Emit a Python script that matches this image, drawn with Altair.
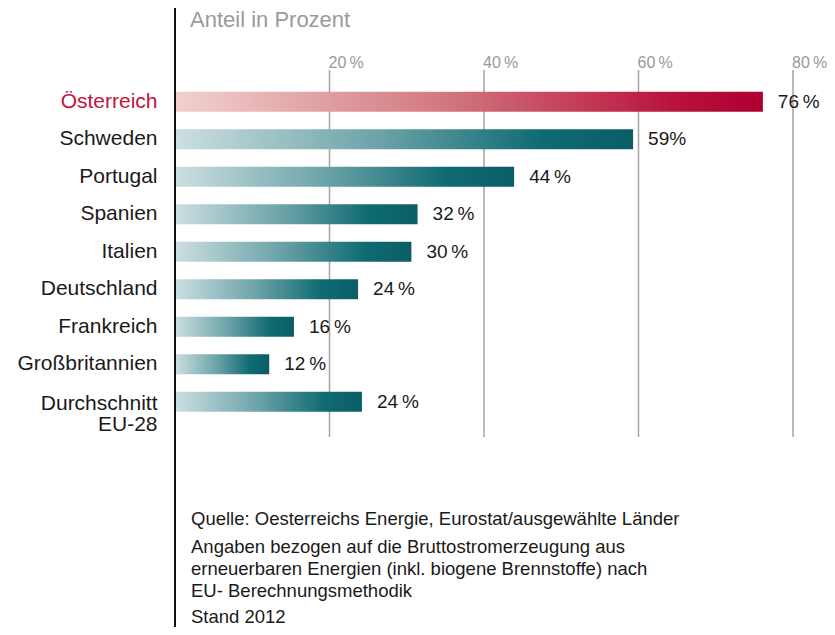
import altair as alt
import pandas as pd

FONT = "Liberation Sans"
TS = "\u2009"

countries = ["Österreich", "Schweden", "Portugal", "Spanien", "Italien",
             "Deutschland", "Frankreich", "Großbritannien", "Durchschnitt\nEU-28"]
values = [76.1, 59.3, 43.9, 31.4, 30.6, 23.7, 15.4, 12.2, 24.2]
value_labels = ["76" + TS + "%", "59%", "44" + TS + "%", "32" + TS + "%", "30" + TS + "%",
                "24" + TS + "%", "16" + TS + "%", "12" + TS + "%", "24" + TS + "%"]
ticks = [20, 40, 60, 80]
tick_labels = ["20" + TS + "%", "40" + TS + "%", "60" + TS + "%", "80" + TS + "%"]

axis_title = "Anteil in Prozent"
source_line = "Quelle: Oesterreichs Energie, Eurostat/ausgewählte Länder"
note_lines = ["Angaben bezogen auf die Bruttostromerzeugung aus",
              "erneuerbaren Energien (inkl. biogene Brennstoffe) nach",
              "EU- Berechnungsmethodik"]
stand_line = "Stand 2012"

df = pd.DataFrame({"country": countries, "value": values, "label": value_labels})
tdf = pd.DataFrame({"t": ticks, "tl": tick_labels})

xscale = alt.Scale(domain=[0, 80], nice=False, zero=True)
yscale = alt.Scale(domain=countries, paddingInner=0.467, paddingOuter=0.2335)

X = alt.X("value:Q", scale=xscale, axis=None)
Y = alt.Y("country:N", scale=yscale, sort=countries, title=None,
          axis=alt.Axis(domain=False, ticks=False, grid=False, labelPadding=18,
                        labelFontSize=21, labelFont=FONT, labelLimit=300,
                        labelLineHeight=21,
                        labelExpr="split(datum.label, '\\n')",
                        labelColor={"condition": {"test": "datum.value === 'Österreich'", "value": "#c0143c"},
                                    "value": "#1a1a1a"},
                        labelOffset={"condition": {"test": "indexof(datum.value, 'EU-28') >= 0", "value": 2.5},
                                     "value": 0}))

teal = alt.Gradient(gradient="linear", x1=0, x2=1, y1=0, y2=0, stops=[
    alt.GradientStop(color="#cddfe1", offset=0),
    alt.GradientStop(color="#6aa2a7", offset=0.45),
    alt.GradientStop(color="#0f6b72", offset=0.8),
    alt.GradientStop(color="#0b5d66", offset=1)])
red = alt.Gradient(gradient="linear", x1=0, x2=1, y1=0, y2=0, stops=[
    alt.GradientStop(color="#f2d0d0", offset=0),
    alt.GradientStop(color="#d27a80", offset=0.45),
    alt.GradientStop(color="#b8123e", offset=0.85),
    alt.GradientStop(color="#ad0030", offset=1)])

grid = alt.Chart(tdf).mark_rule(color="#a3a3a3", strokeWidth=1.5).encode(
    x=alt.X("t:Q", scale=xscale, axis=None), y=alt.value(-13), y2=alt.value(354))
grid_labels = alt.Chart(tdf).mark_text(align="left", baseline="alphabetic", dx=-1,
                                       fontSize=16, font=FONT, color="#9a9a9a").encode(
    x=alt.X("t:Q", scale=xscale, axis=None), y=alt.value(-15), text="tl:N")

bars_teal = alt.Chart(df).transform_filter(alt.datum.country != "Österreich").mark_bar(
    color=teal).encode(x=X, y=Y)
bars_red = alt.Chart(df).transform_filter(alt.datum.country == "Österreich").mark_bar(
    color=red).encode(x=X, y=Y)
vlabels = alt.Chart(df).mark_text(align="left", baseline="middle", dx=15, fontSize=19,
                                  font=FONT, color="#1a1a1a").encode(
    x=X, y=Y, text="label:N")

vline = alt.Chart(df.head(1)).mark_rule(color="#111111", strokeWidth=2).encode(
    x=alt.value(0), y=alt.value(-75), y2=alt.value(545))

title_t = alt.Chart(pd.DataFrame({"s": [axis_title]})).mark_text(
    align="left", baseline="alphabetic", fontSize=22, font=FONT, color="#9a9a9a").encode(
    x=alt.value(15), y=alt.value(-56), text="s:N")
src_t = alt.Chart(pd.DataFrame({"s": [source_line]})).mark_text(
    align="left", baseline="alphabetic", fontSize=18.5, font=FONT, color="#1a1a1a").encode(
    x=alt.value(16), y=alt.value(442), text="s:N")
note_t = alt.Chart(pd.DataFrame({"s": ["\n".join(note_lines)]})).mark_text(
    align="left", baseline="alphabetic", fontSize=18.5, font=FONT, color="#1a1a1a",
    lineBreak="\n", lineHeight=22).encode(
    x=alt.value(16), y=alt.value(470), text="s:N")
stand_t = alt.Chart(pd.DataFrame({"s": [stand_line]})).mark_text(
    align="left", baseline="alphabetic", fontSize=18.5, font=FONT, color="#1a1a1a").encode(
    x=alt.value(16), y=alt.value(540), text="s:N")

chart = alt.layer(grid, grid_labels, bars_teal, bars_red, vlabels, vline,
                  title_t, src_t, note_t, stand_t).properties(
    width=618, height=337.5,
    autosize=alt.AutoSizeParams(type="none"),
    padding={"left": 167, "top": 75, "right": 34, "bottom": 206},
    background="white",
).configure(font=FONT).configure_view(strokeWidth=0)

chart.save("out.html", embed_options={"renderer": "svg", "actions": False})
